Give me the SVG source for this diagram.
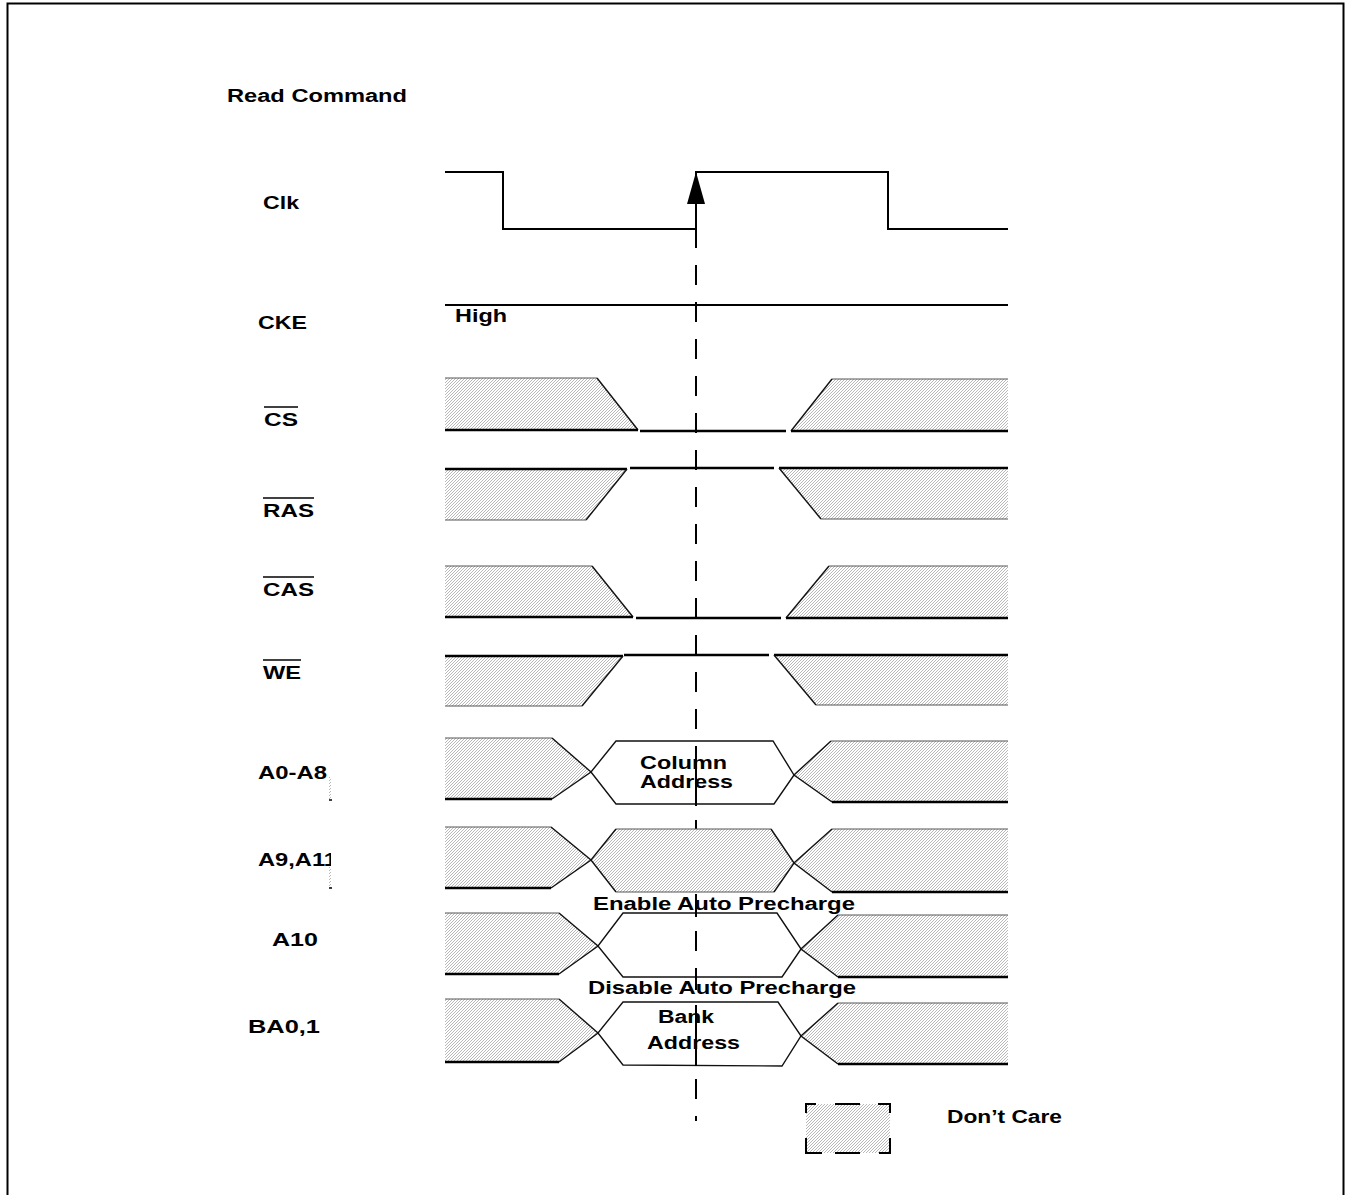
<svg xmlns="http://www.w3.org/2000/svg" width="1351" height="1195" viewBox="0 0 1351 1195">
<defs>
<pattern id="hatch" width="3" height="3" patternUnits="userSpaceOnUse">
<rect width="3" height="3" fill="#ffffff"/>
<path d="M-1,1 L1,-1 M0,3 L3,0 M2,4 L4,2" stroke="#9a9a9a" stroke-width="0.7"/>
</pattern>
<clipPath id="clipA9"><rect x="240" y="840" width="91" height="40"/></clipPath>
</defs>
<style>
text{font-family:"Liberation Sans",Arial,Helvetica,sans-serif;font-weight:bold;font-size:18px;fill:#000}
.sig{fill:none;stroke:#000;stroke-width:2}
.lvl{fill:none;stroke:#000;stroke-width:2.6}
.edge{fill:none;stroke:#555;stroke-width:1}
.slope{fill:none;stroke:#111;stroke-width:1.4}
.h{fill:url(#hatch);stroke:none}
.w{fill:#fff;stroke:none}
.ov{stroke:#000;stroke-width:1.6}
</style>
<rect x="7.5" y="3.5" width="1336" height="1200" fill="#fff" stroke="#000" stroke-width="2"/>

<g id="title"><text x="227" y="102" textLength="180" lengthAdjust="spacingAndGlyphs">Read Command</text></g>

<g id="labels">
<text x="263" y="209" textLength="36" lengthAdjust="spacingAndGlyphs">Clk</text>
<text x="258" y="329" textLength="49" lengthAdjust="spacingAndGlyphs">CKE</text>
<text x="264" y="426" textLength="34" lengthAdjust="spacingAndGlyphs">CS</text>
<line class="ov" x1="264" y1="407" x2="298" y2="407"/>
<text x="263" y="517" textLength="51" lengthAdjust="spacingAndGlyphs">RAS</text>
<line class="ov" x1="263" y1="498" x2="314" y2="498"/>
<text x="263" y="596" textLength="51" lengthAdjust="spacingAndGlyphs">CAS</text>
<line class="ov" x1="263" y1="577" x2="314" y2="577"/>
<text x="263" y="679" textLength="38" lengthAdjust="spacingAndGlyphs">WE</text>
<line class="ov" x1="263" y1="660" x2="301" y2="660"/>
<text x="258" y="779" textLength="69" lengthAdjust="spacingAndGlyphs">A0-A8</text>
<g clip-path="url(#clipA9)"><text x="258" y="866" textLength="79" lengthAdjust="spacingAndGlyphs">A9,A11</text></g>
<text x="272" y="946" textLength="46" lengthAdjust="spacingAndGlyphs">A10</text>
<text x="248" y="1033" textLength="72" lengthAdjust="spacingAndGlyphs">BA0,1</text>
<rect x="329" y="777" width="2" height="23" class="h"/>
<line x1="329" y1="800" x2="332" y2="800" stroke="#000" stroke-width="1.5"/>
<rect x="329" y="867" width="2" height="21" class="h"/>
<line x1="329" y1="888" x2="332" y2="888" stroke="#000" stroke-width="1.5"/>
</g>

<g id="clk"><path class="sig" d="M445,172 H503 V229 H696 M696,203 V172 H888 V229 H1008"/></g>

<g id="cke">
<line class="sig" x1="445" y1="305" x2="1008" y2="305"/>
<text x="455" y="322" textLength="52" lengthAdjust="spacingAndGlyphs">High</text>
</g>

<g id="cs">
<polygon class="h" points="445,378 597,378 638,430 445,430"/>
<path class="edge" d="M445,378 H597"/><path class="slope" d="M597,378 L638,430"/><path class="lvl" d="M445,430 H638"/>
<path class="lvl" d="M640,431 H786"/>
<polygon class="h" points="791,431 832,379 1008,379 1008,431"/>
<path class="slope" d="M791,431 L832,379"/><path class="edge" d="M832,379 H1008"/><path class="lvl" d="M791,431 H1008"/>
</g>

<g id="ras">
<polygon class="h" points="445,469 627,469 586,520 445,520"/>
<path class="lvl" d="M445,469 H627"/><path class="slope" d="M627,469 L586,520"/><path class="edge" d="M445,520 H586"/>
<path class="lvl" d="M630,468 H774"/>
<polygon class="h" points="779,468 1008,468 1008,519 821,519"/>
<path class="lvl" d="M779,468 H1008"/><path class="slope" d="M779,468 L821,519"/><path class="edge" d="M821,519 H1008"/>
</g>

<g id="cas">
<polygon class="h" points="445,566 592,566 633,617 445,617"/>
<path class="edge" d="M445,566 H592"/><path class="slope" d="M592,566 L633,617"/><path class="lvl" d="M445,617 H633"/>
<path class="lvl" d="M636,618 H781"/>
<polygon class="h" points="786,618 829,566 1008,566 1008,618"/>
<path class="slope" d="M786,618 L829,566"/><path class="edge" d="M829,566 H1008"/><path class="lvl" d="M786,618 H1008"/>
</g>

<g id="we">
<polygon class="h" points="445,656 623,656 582,706 445,706"/>
<path class="lvl" d="M445,656 H623"/><path class="slope" d="M623,656 L582,706"/><path class="edge" d="M445,706 H582"/>
<path class="lvl" d="M624,655 H769"/>
<polygon class="h" points="774,655 1008,655 1008,705 816,705"/>
<path class="lvl" d="M774,655 H1008"/><path class="slope" d="M774,655 L816,705"/><path class="edge" d="M816,705 H1008"/>
</g>

<g id="connectors">
<line x1="696" y1="228" x2="696" y2="1121" stroke="#000" stroke-width="2" stroke-dasharray="20 17"/>
<line x1="696" y1="229" x2="696" y2="203" stroke="#000" stroke-width="2"/>
<polygon points="696,172 687,204 705,204" fill="#000"/>
</g>

<g id="a0a8">
<polygon class="h" points="445,738 552,738 591,772 552,799 445,799"/>
<polygon class="w" points="591,772 616,741 773,741 794,775 774,804 616,804"/>
<polygon class="h" points="794,775 831,741 1008,741 1008,802 832,802"/>
<path class="edge" d="M445,738 H552 M831,741 H1008"/>
<path class="slope" d="M552,738 L591,772 L616,804 H774 L794,775 L831,741 M552,799 L591,772 L616,741 H773 L794,775 L832,802"/>
<path class="lvl" d="M445,799 H552 M832,802 H1008"/>
<line x1="696" y1="746" x2="696" y2="806" stroke="#000" stroke-width="2"/>
<text x="640" y="769" textLength="87" lengthAdjust="spacingAndGlyphs">Column</text>
<text x="640" y="788" textLength="93" lengthAdjust="spacingAndGlyphs">Address</text>
</g>

<g id="a9a11">
<polygon class="h" points="445,827 551,827 591,860 551,888 445,888"/>
<polygon class="h" points="591,860 616,829 771,829 794,863 774,892 616,892"/>
<polygon class="h" points="794,863 832,829 1008,829 1008,892 832,892"/>
<path class="edge" d="M445,827 H551 M616,829 H771 M616,892 H774 M832,829 H1008"/>
<path class="slope" d="M551,827 L591,860 L616,892 M774,892 L794,863 L832,829 M551,888 L591,860 L616,829 M771,829 L794,863 L832,892"/>
<path class="lvl" d="M445,888 H551 M832,892 H1008"/>
</g>

<g id="a10">
<polygon class="h" points="445,913 559,913 598,946 559,974 445,974"/>
<polygon class="h" points="801,949 838,915 1008,915 1008,977 838,977"/>
<path class="edge" d="M445,913 H559 M838,915 H1008"/>
<path class="slope" d="M559,913 L598,946 L623,977 H782 L801,949 L838,915 M559,974 L598,946 L623,913 H777 L801,949 L838,977"/>
<path class="lvl" d="M445,974 H559 M838,977 H1008"/>
<text x="593" y="910" textLength="262" lengthAdjust="spacingAndGlyphs">Enable Auto Precharge</text>
<text x="588" y="994" textLength="268" lengthAdjust="spacingAndGlyphs">Disable Auto Precharge</text>
<line x1="696" y1="902" x2="696" y2="917" stroke="#000" stroke-width="2"/>
<line x1="696" y1="970" x2="696" y2="990" stroke="#000" stroke-width="2"/>
</g>

<g id="ba01">
<polygon class="h" points="445,999 559,999 598,1033 559,1062 445,1062"/>
<polygon class="h" points="801,1036 838,1003 1008,1003 1008,1064 838,1064"/>
<path class="edge" d="M445,999 H559 M838,1003 H1008"/>
<path class="slope" d="M559,999 L598,1033 L623,1065 L782,1066 L801,1036 L838,1003 M559,1062 L598,1033 L623,1002 H778 L801,1036 L838,1064"/>
<path class="lvl" d="M445,1062 H559 M838,1064 H1008"/>
<line x1="696" y1="1005" x2="696" y2="1066" stroke="#000" stroke-width="2"/>
<text x="658" y="1023" textLength="56" lengthAdjust="spacingAndGlyphs">Bank</text>
<text x="647" y="1049" textLength="93" lengthAdjust="spacingAndGlyphs">Address</text>
</g>

<g id="legend">
<rect x="806" y="1104" width="84" height="49" class="h"/>
<path fill="none" stroke="#000" stroke-width="2" d="M806,1113 V1104 H816 M835,1104 H860 M878,1104 H890 V1113 M806,1138 V1153 H822 M835,1153 H860 M879,1153 H890 V1138"/>
<text x="947" y="1123" textLength="115" lengthAdjust="spacingAndGlyphs">Don’t Care</text>
</g>
</svg>
